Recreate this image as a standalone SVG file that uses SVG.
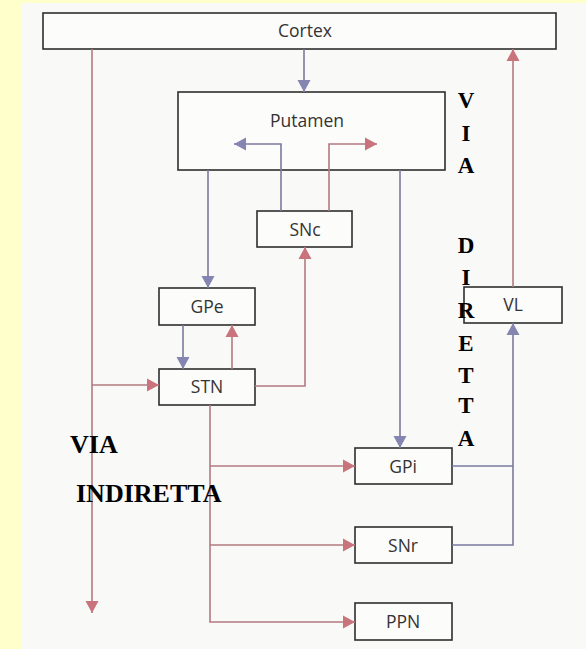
<svg xmlns="http://www.w3.org/2000/svg" width="586" height="649" viewBox="0 0 586 649">
<style>
.box{fill:#fcfcfb;stroke:#2e2e2e;stroke-width:1.6}
.lbl{font-family:"Open Sans","Liberation Sans",sans-serif;font-size:17.5px;fill:#333;text-anchor:middle}
.red{fill:none;stroke:#b27a80;stroke-width:1.6}
.blue{fill:none;stroke:#7a7aa0;stroke-width:1.6}
.big{font-family:"Liberation Serif","Times New Roman",serif;font-weight:bold;fill:#000}
.v{font-size:23px;text-anchor:middle}
.h{font-size:26px}
</style>
<defs>
<marker id="ar" markerUnits="userSpaceOnUse" markerWidth="14" markerHeight="14" refX="12" refY="7" orient="auto">
<path d="M0,0.5 L12,7 L0,13.5 Z" fill="#c9737c"/>
</marker>
<marker id="ab" markerUnits="userSpaceOnUse" markerWidth="14" markerHeight="14" refX="12" refY="7" orient="auto">
<path d="M0,0.5 L12,7 L0,13.5 Z" fill="#8585b2"/>
</marker>
</defs>
<rect x="0" y="0" width="586" height="649" fill="#ffffcc"/>
<rect x="22" y="3" width="564" height="646" fill="#f9f9f8"/>
<g id="cortex"><rect class="box" x="43" y="13" width="513" height="36"/><text class="lbl" x="305" y="37">Cortex</text></g>
<g id="putamen"><rect class="box" x="178" y="92" width="267" height="78"/><text class="lbl" x="307" y="127">Putamen</text></g>
<g id="snc"><rect class="box" x="257" y="211" width="95" height="36"/><text class="lbl" x="305" y="236">SNc</text></g>
<g id="gpe"><rect class="box" x="159" y="288" width="96" height="37"/><text class="lbl" x="207" y="313">GPe</text></g>
<g id="stn"><rect class="box" x="159" y="369" width="96" height="36"/><text class="lbl" x="207" y="393">STN</text></g>
<g id="gpi"><rect class="box" x="355" y="448" width="97" height="36"/><text class="lbl" x="403" y="473">GPi</text></g>
<g id="snr"><rect class="box" x="355" y="527" width="97" height="36"/><text class="lbl" x="403" y="552">SNr</text></g>
<g id="ppn"><rect class="box" x="355" y="603" width="97" height="37"/><text class="lbl" x="403" y="628">PPN</text></g>
<g id="vl"><rect class="box" x="464" y="287" width="98" height="36"/><text class="lbl" x="513" y="311">VL</text></g>
<g id="connectors">
<path class="blue" d="M304,49 V92" marker-end="url(#ab)"/>
<path class="red" d="M92,49 V613" marker-end="url(#ar)"/>
<path class="red" d="M92,385 H159" marker-end="url(#ar)"/>
<path class="blue" d="M208,170 V288" marker-end="url(#ab)"/>
<path class="blue" d="M400,170 V448" marker-end="url(#ab)"/>
<path class="blue" d="M281,211 V144 H234" marker-end="url(#ab)"/>
<path class="red" d="M329,211 V144 H377" marker-end="url(#ar)"/>
<path class="blue" d="M183,325 V369" marker-end="url(#ab)"/>
<path class="red" d="M232,369 V325" marker-end="url(#ar)"/>
<path class="red" d="M255,386 H305 V247" marker-end="url(#ar)"/>
<path class="red" d="M210,405 V622 H355" marker-end="url(#ar)"/>
<path class="red" d="M210,466 H355" marker-end="url(#ar)"/>
<path class="red" d="M210,545 H355" marker-end="url(#ar)"/>
<path class="blue" d="M452,466 H513"/>
<path class="blue" d="M452,545 H513 V323" marker-end="url(#ab)"/>
<path class="red" d="M513,287 V49" marker-end="url(#ar)"/>
</g>
<g id="via-diretta" class="big v">
<text x="466" y="108">V</text>
<text x="466" y="141">I</text>
<text x="466" y="173">A</text>
<text x="466" y="253">D</text>
<text x="466" y="285">I</text>
<text x="466" y="318">R</text>
<text x="466" y="351">E</text>
<text x="466" y="383">T</text>
<text x="466" y="413">T</text>
<text x="466" y="446">A</text>
</g>
<g id="via-indiretta" class="big h">
<text x="70" y="453">VIA</text>
<text x="76" y="502">INDIRETTA</text>
</g>
</svg>
